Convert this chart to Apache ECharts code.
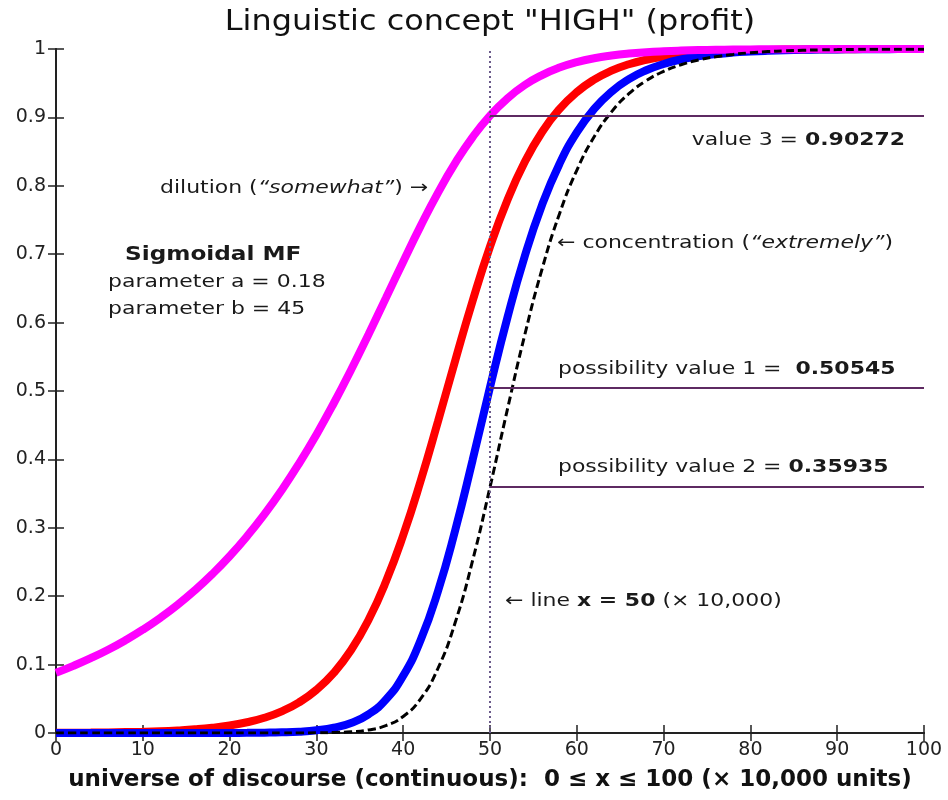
<!DOCTYPE html>
<html>
<head>
<meta charset="utf-8">
<title>Linguistic concept HIGH</title>
<script src="https://cdn.jsdelivr.net/npm/echarts@6/dist/echarts.min.js"></script>
<style>
  html, body { margin: 0; padding: 0; background: #fff; }
  #chart { width: 948px; height: 800px; }
</style>
</head>
<body>
<div id="chart"></div>
<script>
// Universe of discourse, sampled every 2 units (x 10,000)
const xValues = [0, 2, 4, 6, 8, 10, 12, 14, 16, 18, 20, 22, 24, 26, 28, 30, 32, 34, 36, 38, 40,
  42, 44, 46, 48, 50, 52, 54, 56, 58, 60, 62, 64, 66, 68, 70, 72, 74, 76, 78, 80,
  82, 84, 86, 88, 90, 92, 94, 96, 98, 100];

// Sigmoidal MF "HIGH" (a = 0.18, b = 45)
const highMF = [0.0003, 0.0004, 0.0006, 0.0009, 0.0013, 0.0018, 0.0026, 0.0038, 0.0054, 0.0077, 0.0110,
  0.0157, 0.0223, 0.0317, 0.0448, 0.0630, 0.0879, 0.1213, 0.1652, 0.2210, 0.2891,
  0.3682, 0.4551, 0.5449, 0.6318, 0.7110, 0.7790, 0.8348, 0.8787, 0.9121, 0.9370,
  0.9552, 0.9683, 0.9777, 0.9843, 0.9890, 0.9923, 0.9946, 0.9962, 0.9974, 0.9982,
  0.9987, 0.9991, 0.9994, 0.9996, 0.9997, 0.9998, 0.9999, 0.9999, 0.9999, 1.0000];

// Concentration "very HIGH"
const veryHighMF = [0, 0, 0, 0, 0, 0, 0, 0, 0, 0.0001, 0.0001,
  0.0002, 0.0005, 0.0010, 0.0020, 0.0040, 0.0077, 0.0147, 0.0273, 0.0488, 0.0836,
  0.1356, 0.2071, 0.2969, 0.3992, 0.5055, 0.6069, 0.6969, 0.7721, 0.8320, 0.8780,
  0.9124, 0.9376, 0.9559, 0.9689, 0.9781, 0.9847, 0.9893, 0.9925, 0.9948, 0.9963,
  0.9974, 0.9982, 0.9988, 0.9991, 0.9994, 0.9996, 0.9997, 0.9998, 0.9999, 0.9999];

// Dilution "somewhat HIGH"
const somewhatHighMF = [0.0880, 0.0981, 0.1093, 0.1217, 0.1356, 0.1510, 0.1682, 0.1873, 0.2086, 0.2322, 0.2584,
  0.2875, 0.3196, 0.3550, 0.3939, 0.4362, 0.4821, 0.5311, 0.5827, 0.6358, 0.6891,
  0.7410, 0.7897, 0.8335, 0.8713, 0.9027, 0.9278, 0.9473, 0.9619, 0.9728, 0.9807,
  0.9864, 0.9904, 0.9933, 0.9953, 0.9967, 0.9977, 0.9984, 0.9989, 0.9992, 0.9994,
  0.9996, 0.9997, 0.9998, 0.9999, 0.9999, 1.0000, 1.0000, 1.0000, 1.0000, 1.0000];

// Concentration "extremely HIGH"
const extremelyHighMF = [0, 0, 0, 0, 0, 0, 0, 0, 0, 0, 0,
  0, 0, 0, 0.0001, 0.0002, 0.0007, 0.0018, 0.0045, 0.0108, 0.0242,
  0.0499, 0.0943, 0.1618, 0.2522, 0.3594, 0.4728, 0.5818, 0.6784, 0.7589, 0.8227,
  0.8716, 0.9080, 0.9346, 0.9537, 0.9673, 0.9769, 0.9839, 0.9888, 0.9921, 0.9945,
  0.9962, 0.9973, 0.9981, 0.9987, 0.9991, 0.9994, 0.9996, 0.9997, 0.9998, 0.9998];

// Input x = 50 and the memberships read at it
const inputX = 50;
const possibility1 = 0.50545;
const possibility2 = 0.35935;
const value3 = 0.90272;

const xTicks = { min: 0, max: 100, interval: 10 };
const yTicks = { min: 0, max: 1, interval: 0.1 };

const FONT = "'DejaVu Sans', Verdana, sans-serif";
const INK = '#1a1a1a';
const SX = 1.22;

const chart = echarts.init(document.getElementById('chart'), null, { renderer: 'canvas' });

function pairs(ys) {
  return xValues.map((x, i) => [x, ys[i]]);
}

const axisLine = { show: true, lineStyle: { color: '#222', width: 2 } };
const axisTick = { show: true, inside: true, length: 8, lineStyle: { color: '#222', width: 1.5 } };

const rich = {
  n: { fontFamily: FONT, fontSize: 18, fill: INK },
  i: { fontFamily: FONT, fontSize: 18, fontStyle: 'italic', fill: INK },
  b: { fontFamily: FONT, fontSize: 18, fontWeight: 'bold', fill: INK },
  h: { fontFamily: FONT, fontSize: 19, fontWeight: 'bold', fill: INK }
};

function note(x, y, text, align) {
  return {
    type: 'text', x: x, y: y, scaleX: SX, z: 100, silent: true,
    style: { text: text, rich: rich, align: align || 'left', verticalAlign: 'middle',
      fontFamily: FONT, fontSize: 18, fill: INK }
  };
}

function curve(name, ys, color, extra) {
  return Object.assign({
    name: name, type: 'line', data: pairs(ys), smooth: true, showSymbol: false,
    lineStyle: { color: color, width: 8 }, itemStyle: { color: color },
    emphasis: { disabled: true }
  }, extra || {});
}

const guideColor = '#5e2a62';

chart.setOption({
  animation: false,
  backgroundColor: '#ffffff',
  grid: { left: 56, top: 49, width: 868, height: 684 },
  xAxis: [
    {
      type: 'value', position: 'bottom', min: xTicks.min, max: xTicks.max, interval: xTicks.interval,
      axisLine: axisLine, axisTick: axisTick, splitLine: { show: false },
      axisLabel: { fontFamily: FONT, fontSize: 19, color: '#222', margin: 8 },
      name: 'universe of discourse (continuous):  0 \u2264 x \u2264 100 (\u00d7 10,000 units)',
      nameLocation: 'middle', nameGap: 36,
      nameTextStyle: { fontFamily: FONT, fontSize: 23, fontWeight: 'bold', color: '#111' }
    },
    {
      type: 'value', position: 'top', min: xTicks.min, max: xTicks.max, interval: xTicks.interval,
      axisLine: axisLine, axisTick: axisTick, axisLabel: { show: false }, splitLine: { show: false }
    }
  ],
  yAxis: [
    {
      type: 'value', position: 'left', min: yTicks.min, max: yTicks.max, interval: yTicks.interval,
      axisLine: axisLine, axisTick: axisTick, splitLine: { show: false },
      axisLabel: { fontFamily: FONT, fontSize: 19, color: '#222', margin: 10 }
    },
    {
      type: 'value', position: 'right', min: yTicks.min, max: yTicks.max, interval: yTicks.interval,
      axisLine: axisLine, axisTick: axisTick, axisLabel: { show: false }, splitLine: { show: false }
    }
  ],
  series: [
    curve('HIGH', highMF, '#ff0000'),
    curve('very HIGH', veryHighMF, '#0000ff'),
    curve('somewhat HIGH', somewhatHighMF, '#ff00ff'),
    curve('extremely HIGH', extremelyHighMF, '#000000', {
      lineStyle: { color: '#000000', width: 3, type: [8, 4] }
    }),
    {
      name: 'guides', type: 'line', data: [], silent: true, z: 5,
      markLine: {
        silent: true, symbol: 'none', animation: false,
        label: { show: false },
        emphasis: { disabled: true },
        data: [
          [{ coord: [inputX, yTicks.min], lineStyle: { color: '#6a5a8a', width: 2, type: [2, 3] } },
           { coord: [inputX, yTicks.max] }],
          [{ coord: [inputX, value3], lineStyle: { color: guideColor, width: 2, type: 'solid' } },
           { coord: [xTicks.max, value3] }],
          [{ coord: [inputX, possibility1], lineStyle: { color: guideColor, width: 2, type: 'solid' } },
           { coord: [xTicks.max, possibility1] }],
          [{ coord: [inputX, possibility2], lineStyle: { color: guideColor, width: 2, type: 'solid' } },
           { coord: [xTicks.max, possibility2] }]
        ]
      }
    }
  ],
  graphic: [
    {
      type: 'text', x: 490, y: 22, scaleX: 1.1, silent: true,
      style: { text: 'Linguistic concept "HIGH" (profit)', align: 'center', verticalAlign: 'middle',
        fontFamily: FONT, fontSize: 29, fill: '#111' }
    },
    note(160, 188, '{n|dilution (}{i|\u201csomewhat\u201d}{n|) \u2192}'),
    note(125, 255, '{h|Sigmoidal MF}'),
    note(108, 282, '{n|parameter a = 0.18}'),
    note(108, 309, '{n|parameter b = 45}'),
    note(905, 140, '{n|value 3 = }{b|' + value3.toFixed(5) + '}', 'right'),
    note(557, 243, '{n|\u2190 concentration (}{i|\u201cextremely\u201d}{n|)}'),
    note(558, 369, '{n|possibility value 1 =  }{b|' + possibility1.toFixed(5) + '}'),
    note(558, 467, '{n|possibility value 2 = }{b|' + possibility2.toFixed(5) + '}'),
    note(505, 601, '{n|\u2190 line }{b|x = ' + inputX + '}{n| (\u00d7 10,000)}')
  ]
});
</script>
</body>
</html>
